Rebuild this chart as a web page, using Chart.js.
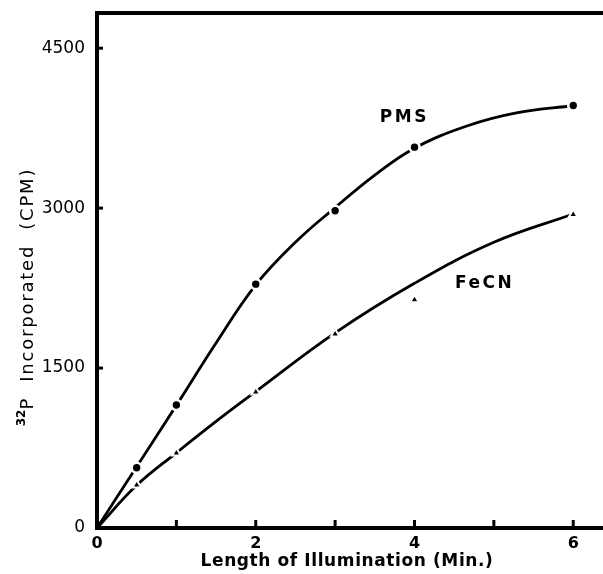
<!DOCTYPE html>
<html>
<head>
<meta charset="utf-8">
<script src="https://cdn.jsdelivr.net/npm/chart.js@4/dist/chart.umd.min.js"></script>
<style>
  html, body { margin: 0; padding: 0; background: #fff; overflow: hidden; }
  #wrap { width: 603px; height: 574px; overflow: hidden; }
  #c { display: block; }
</style>
</head>
<body>
<div id="wrap"><canvas id="c" width="611" height="574"></canvas></div>
<script>
// ---- Data ----
const measuredX    = [0.5, 1, 2, 3, 4, 6];
const pmsMeasured  = [565, 1153, 2287, 2975, 3572, 3962];
const fecnMeasured = [403, 703, 1275, 1819, 2140, 2940];

// fitted (hand-drawn) curves
const pmsCurveX = [0, 0.5, 1, 1.5, 2, 2.5, 3, 3.5, 4, 4.66, 5.3, 6];
const pmsCurve  = [0, 575, 1150, 1735, 2280, 2680, 3005, 3310, 3562, 3770, 3895, 3960];
const fecnCurveX = [0, 0.5, 1, 1.5, 2, 3, 4, 5, 6];
const fecnCurve  = [0, 400, 705, 1000, 1280, 1830, 2295, 2680, 2945];

const xTicks = [0, 1, 2, 3, 4, 5, 6];
const xTickLabels = [0, 2, 4, 6];
const yTicks = [0, 1500, 3000, 4500];

const seriesLabels = [
  { text: 'PMS',  x: 3.86, y: 3853 },
  { text: 'FeCN', x: 4.87, y: 2290 }
];

const xTitle = 'Length of Illumination (Min.)';
const yTitleSup = '32';
const yTitleMain = 'P  Incorporated  (CPM)';

const FONT = '"DejaVu Sans", "Liberation Sans", sans-serif';

const pts = (xs, ys) => xs.map((x, i) => ({ x: x, y: ys[i] }));

const decorPlugin = {
  id: 'decor',
  afterDatasetsDraw(chart) {
    const ctx = chart.ctx;
    const a = chart.chartArea;
    const xs = chart.scales.x, ys = chart.scales.y;
    ctx.save();
    // top frame line
    ctx.strokeStyle = '#000';
    ctx.lineWidth = 4;
    ctx.beginPath();
    ctx.moveTo(a.left - 2, a.top);
    ctx.lineTo(chart.width, a.top);
    ctx.stroke();
    // inner ticks
    ctx.fillStyle = '#000';
    xTicks.forEach(v => {
      if (v === 0) return;
      const px = xs.getPixelForValue(v);
      ctx.fillRect(px - 1.5, a.bottom - 8, 3, 8);
    });
    yTicks.forEach(v => {
      if (v === 0) return;
      const py = ys.getPixelForValue(v);
      ctx.fillRect(a.left, py - 1.5, 6, 3);
    });
    // series labels
    ctx.font = 'bold 17px ' + FONT;
    ctx.letterSpacing = '2.5px';
    ctx.textAlign = 'center';
    ctx.textBaseline = 'middle';
    seriesLabels.forEach(l => {
      ctx.fillText(l.text, xs.getPixelForValue(l.x) + 1, ys.getPixelForValue(l.y));
    });
    // x title
    ctx.font = 'bold 17px ' + FONT;
    ctx.letterSpacing = '0.6px';
    ctx.fillText(xTitle, 347, 562);
    // y title (rotated)
    ctx.translate(25, 297);
    ctx.rotate(-Math.PI / 2);
    ctx.textBaseline = 'alphabetic';
    ctx.textAlign = 'left';
    const supFont = 'bold 12px ' + FONT;
    const mainFont = '18px ' + FONT;
    ctx.letterSpacing = '0px';
    ctx.font = supFont;
    const wSup = ctx.measureText(yTitleSup).width;
    ctx.letterSpacing = '1.8px';
    ctx.font = mainFont;
    const wMain = ctx.measureText(yTitleMain).width;
    const start = -(wSup + wMain) / 2;
    ctx.letterSpacing = '0px';
    ctx.font = supFont;
    ctx.fillText(yTitleSup, start, 0);
    ctx.letterSpacing = '1.8px';
    ctx.font = mainFont;
    ctx.fillText(yTitleMain, start + wSup, 8);
    ctx.restore();
  }
};

new Chart(document.getElementById('c'), {
  type: 'scatter',
  data: {
    datasets: [
      {
        label: 'PMS points',
        data: pts(measuredX, pmsMeasured),
        showLine: false,
        pointStyle: 'circle',
        pointRadius: 5,
        pointBackgroundColor: '#000',
        pointBorderColor: '#fff',
        pointBorderWidth: 2.6,
        order: 0
      },
      {
        label: 'FeCN points',
        data: pts(measuredX, fecnMeasured),
        showLine: false,
        pointStyle: 'triangle',
        pointRadius: 5,
        pointBackgroundColor: '#000',
        pointBorderColor: '#fff',
        pointBorderWidth: 2,
        order: 0
      },
      {
        label: 'PMS',
        data: pts(pmsCurveX, pmsCurve),
        showLine: true,
        borderColor: '#000',
        borderWidth: 2.8,
        pointRadius: 0,
        tension: 0.4,
        order: 1
      },
      {
        label: 'FeCN',
        data: pts(fecnCurveX, fecnCurve),
        showLine: true,
        borderColor: '#000',
        borderWidth: 2.8,
        pointRadius: 0,
        tension: 0.4,
        order: 1
      }
    ]
  },
  options: {
    responsive: false,
    animation: false,
    events: [],
    layout: { padding: { top: 13, right: 0, left: 0, bottom: 0 } },
    plugins: { legend: { display: false }, tooltip: { enabled: false } },
    scales: {
      x: {
        type: 'linear',
        min: 0,
        max: 6.38,
        grid: { display: false, drawTicks: false },
        border: { display: true, color: '#000', width: 4 },
        afterBuildTicks: s => { s.ticks = xTicks.map(v => ({ value: v })); },
        afterFit: s => { s.height = 46; s.paddingLeft = 0; s.paddingRight = 0; },
        ticks: {
          color: '#000',
          padding: 6,
          autoSkip: false,
          maxRotation: 0,
          font: { family: FONT, size: 16, weight: 'bold' },
          callback: v => xTickLabels.includes(v) ? String(v) : ''
        }
      },
      y: {
        type: 'linear',
        min: 0,
        max: 4830,
        grid: { display: false, drawTicks: false },
        border: { display: true, color: '#000', width: 4 },
        afterBuildTicks: s => { s.ticks = yTicks.map(v => ({ value: v })); },
        afterFit: s => { s.width = 97; s.paddingTop = 0; s.paddingBottom = 0; },
        ticks: {
          color: '#000',
          padding: 12,
          autoSkip: false,
          font: { family: FONT, size: 17 },
          callback: v => String(v)
        }
      }
    }
  },
  plugins: [decorPlugin]
});
</script>
</body>
</html>
